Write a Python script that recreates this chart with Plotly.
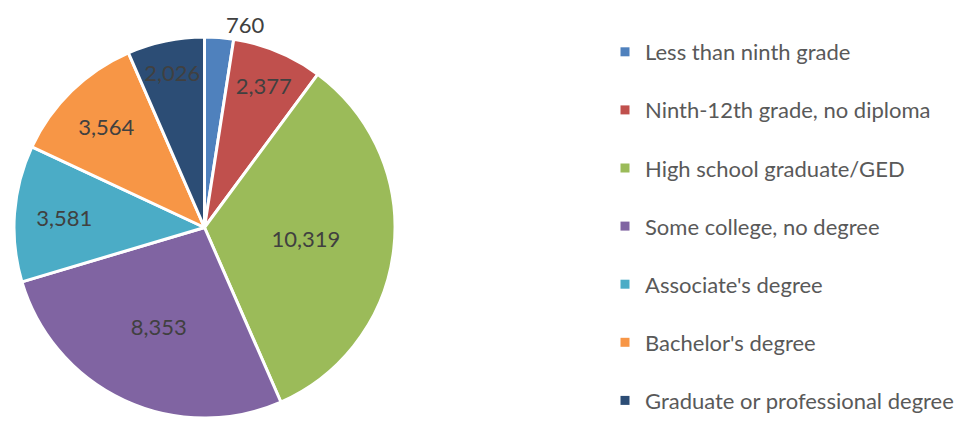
import plotly.graph_objects as go

categories = [
    "Less than ninth grade",
    "Ninth-12th grade, no diploma",
    "High school graduate/GED",
    "Some college, no degree",
    "Associate's degree",
    "Bachelor's degree",
    "Graduate or professional degree",
]
values = [760, 2377, 10319, 8353, 3581, 3564, 2026]
colors = ["#4F81BD", "#C0504D", "#9BBB59", "#8064A2", "#4BACC6", "#F79646", "#2C4D75"]
text_positions = ["outside", "inside", "inside", "inside", "inside", "inside", "inside"]

W, H = 962, 422
fig = go.Figure()
fig.add_trace(go.Pie(
    labels=categories, values=values, sort=False, direction="clockwise", rotation=0,
    marker=dict(colors=colors, line=dict(color="white", width=3)),
    texttemplate="%{value:,}", textposition=text_positions,
    insidetextorientation="horizontal",
    textfont=dict(family="Lato", size=22, color="#404040"),
    showlegend=False, hoverinfo="skip",
    domain=dict(x=[14 / W, 395 / W], y=[4 / H, 385 / H]),
))
for c, col in zip(categories, colors):
    fig.add_trace(go.Scatter(
        x=[None], y=[None], mode="markers",
        marker=dict(symbol="square", size=9, color=col),
        name=c, legendgroup=c, hoverinfo="skip",
    ))

fig.update_layout(
    width=W, height=H, margin=dict(l=0, r=0, t=0, b=0),
    paper_bgcolor="white", plot_bgcolor="white",
    xaxis=dict(visible=False), yaxis=dict(visible=False),
    uniformtext=dict(minsize=22, mode="show"),
    legend=dict(
        x=605 / W, y=1 - 34 / H, xanchor="left", yanchor="top",
        tracegroupgap=26.5, bgcolor="rgba(0,0,0,0)",
        font=dict(family="Lato", size=22, color="#595959"),
    ),
)
fig.write_html(
    "out.html",
    config={"displayModeBar": False},
    post_script="document.body.style.margin='0';document.body.style.overflow='hidden';",
)
